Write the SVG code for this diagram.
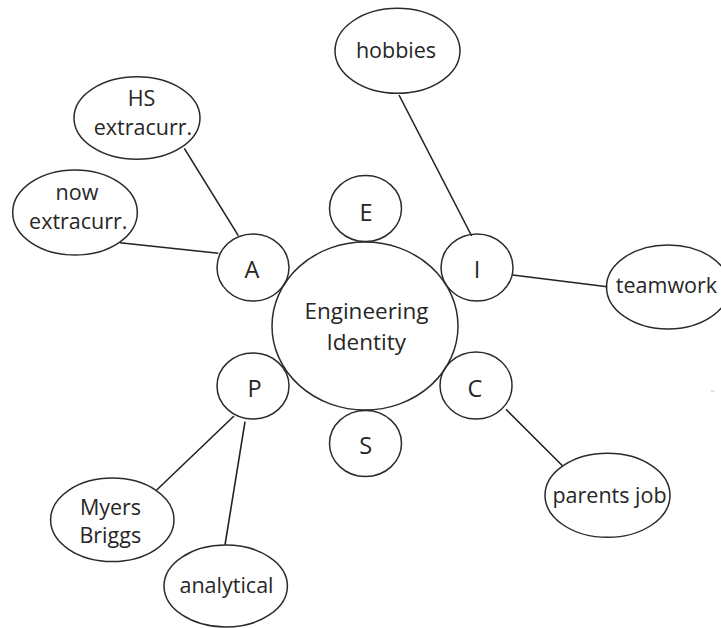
<svg xmlns="http://www.w3.org/2000/svg" width="721" height="628" viewBox="0 0 721 628">
  <style>
    .shape { fill: none; stroke: #2b2b2b; stroke-width: 1.5; }
    .link { stroke: #222; stroke-width: 1.6; fill: none; }
    text { font-family: "Open Sans", "Noto Sans", sans-serif; fill: #262626; text-anchor: middle; }
    .hub { font-size: 22.5px; }
    .letter { font-size: 23.5px; }
    .leaf { font-size: 21.5px; }
  </style>
  <rect width="721" height="628" fill="#ffffff"/>

  <!-- connectors -->
  <g id="connectors">
    <line class="link" x1="184.3" y1="148.3" x2="238.3" y2="235.7"/>
    <line class="link" x1="120" y1="242.7" x2="218.3" y2="253.3"/>
    <line class="link" x1="399" y1="95" x2="471.7" y2="236"/>
    <line class="link" x1="512.7" y1="275" x2="607.3" y2="286.7"/>
    <line class="link" x1="506" y1="409.3" x2="562.7" y2="466"/>
    <line class="link" x1="234" y1="416" x2="156.7" y2="490"/>
    <line class="link" x1="245" y1="421.7" x2="225" y2="545"/>
  </g>

  <!-- central node -->
  <g id="engineering-identity">
    <ellipse class="shape" cx="365" cy="326" rx="93" ry="84"/>
    <text class="hub" x="366.5" y="319">Engineering</text>
    <text class="hub" x="366.3" y="350">Identity</text>
  </g>

  <!-- letter nodes around the hub -->
  <g id="node-E">
    <ellipse class="shape" cx="365.5" cy="208.5" rx="36" ry="33"/>
    <text class="letter" x="366" y="220.5">E</text>
  </g>
  <g id="node-A">
    <ellipse class="shape" cx="253" cy="267.5" rx="36" ry="33.5"/>
    <text class="letter" x="252" y="277.5">A</text>
  </g>
  <g id="node-I">
    <ellipse class="shape" cx="477" cy="267.5" rx="36" ry="33.5"/>
    <text class="letter" x="477" y="278">I</text>
  </g>
  <g id="node-P">
    <ellipse class="shape" cx="253" cy="386" rx="36" ry="33"/>
    <text class="letter" x="254.5" y="396.5">P</text>
  </g>
  <g id="node-C">
    <ellipse class="shape" cx="476" cy="385.5" rx="36" ry="33.5"/>
    <text class="letter" x="475" y="396.5">C</text>
  </g>
  <g id="node-S">
    <ellipse class="shape" cx="365.5" cy="443.5" rx="36" ry="33"/>
    <text class="letter" x="365.6" y="454">S</text>
  </g>

  <!-- outer leaf nodes -->
  <g id="hs-extracurr">
    <ellipse class="shape" cx="137" cy="118" rx="63" ry="41.3"/>
    <text class="leaf" x="141.5" y="106">HS</text>
    <text class="leaf" x="143" y="135">extracurr.</text>
  </g>
  <g id="now-extracurr">
    <ellipse class="shape" cx="75" cy="212.5" rx="62.3" ry="42.5"/>
    <text class="leaf" x="77" y="200">now</text>
    <text class="leaf" x="78.3" y="229">extracurr.</text>
  </g>
  <g id="hobbies">
    <ellipse class="shape" cx="397.5" cy="50.8" rx="62.5" ry="42.5"/>
    <text class="leaf" x="396" y="58.3">hobbies</text>
  </g>
  <g id="teamwork">
    <ellipse class="shape" cx="668" cy="287" rx="61.5" ry="42"/>
    <text class="leaf" x="666.5" y="293.3">teamwork</text>
  </g>
  <g id="parents-job">
    <ellipse class="shape" cx="607.5" cy="495.3" rx="62.5" ry="42"/>
    <text class="leaf" x="609.5" y="503.3">parents job</text>
  </g>
  <g id="myers-briggs">
    <ellipse class="shape" cx="112.3" cy="519.8" rx="61.7" ry="41.7"/>
    <text class="leaf" x="110.5" y="515">Myers</text>
    <text class="leaf" x="110.3" y="543.3">Briggs</text>
  </g>
  <g id="analytical">
    <ellipse class="shape" cx="225.7" cy="586" rx="61.7" ry="41"/>
    <text class="leaf" x="226.5" y="593.3">analytical</text>
  </g>

  <!-- small stray mark on the right -->
  <rect x="711" y="390.5" width="3" height="1.5" fill="#c9dcf2"/>
</svg>
